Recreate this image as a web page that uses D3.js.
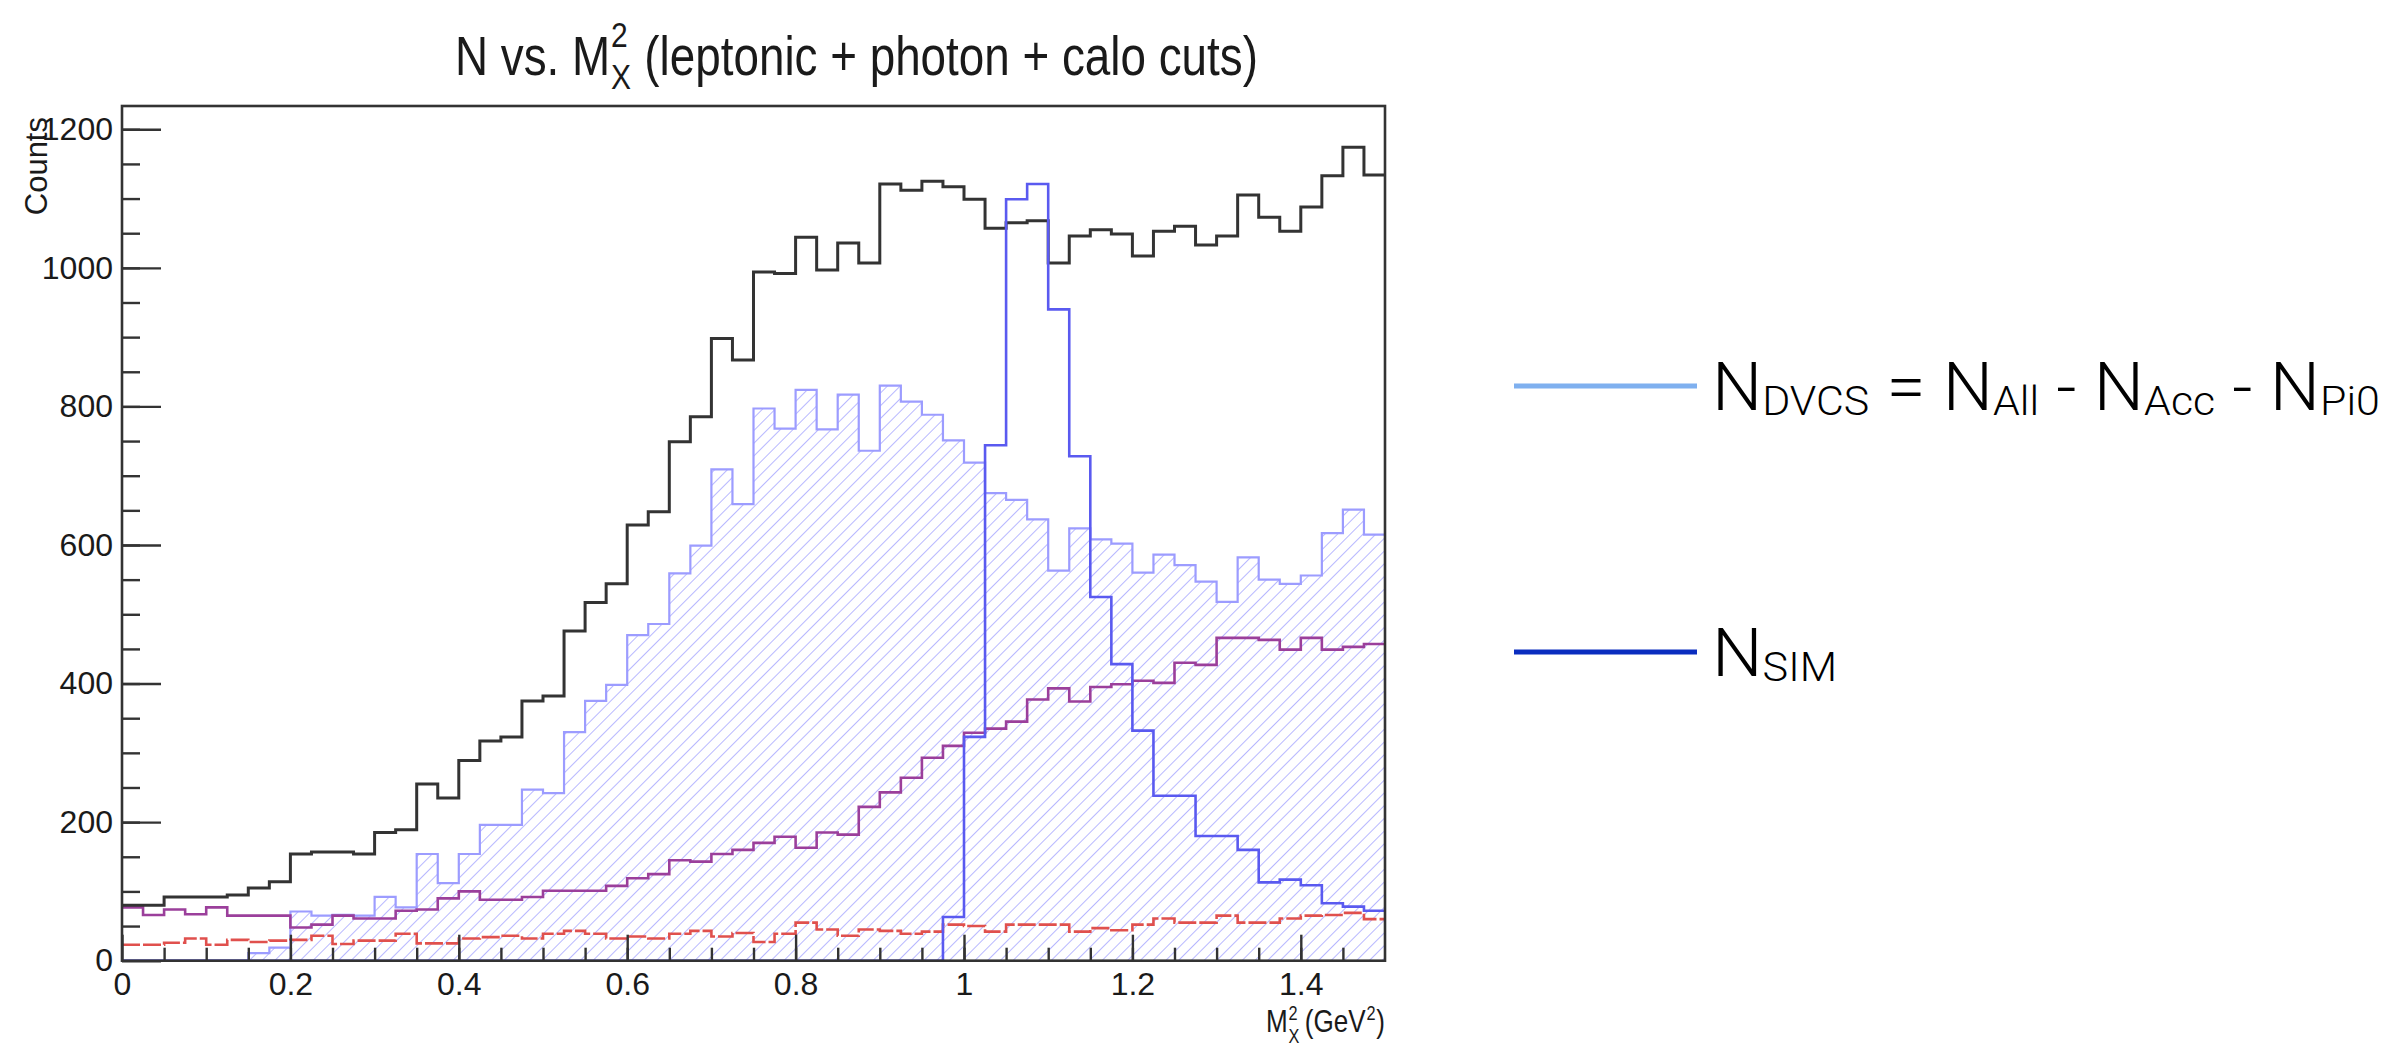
<!DOCTYPE html>
<html>
<head>
<meta charset="utf-8">
<script src="https://cdn.jsdelivr.net/npm/d3@7"></script>
<style>
  body { margin: 0; background: #fff; }
  svg { display: block; }
  text { font-family: "Liberation Sans", Arial, Helvetica, sans-serif; fill: #1a1a1a; white-space: pre; }
  .legend text { font-family: Roboto, "Liberation Sans", sans-serif; font-weight: 300; fill: #000; }
</style>
</head>
<body>
<div class="first"></div>
<script>
// 60 bins of width 0.025 on M_X^2 in [0, 1.5]
const binWidth = 0.025;
const xTicks = [0, 0.2, 0.4, 0.6, 0.8, 1, 1.2, 1.4];
const yTicks = [0, 200, 400, 600, 800, 1000, 1200];

// all events (black)
const nAll = [80, 80, 92, 92, 92, 95, 105, 114, 154, 157,
  157, 154, 185, 189, 255, 235, 289, 317, 323, 375,
  382, 476, 517, 544, 629, 648, 749, 785, 898, 867,
  994, 992, 1044, 997, 1036, 1007, 1121, 1112, 1125, 1117,
  1099, 1057, 1065, 1068, 1007, 1046, 1055, 1049, 1017, 1053,
  1060, 1033, 1046, 1105, 1073, 1053, 1088, 1133, 1174, 1134];

// DVCS = All - Acc - Pi0 (light blue, hatched)
const nDvcs = [0, 0, 0, 0, 0, 0, 11, 19, 71, 65,
  66, 65, 92, 77, 154, 112, 154, 196, 196, 247,
  242, 330, 375, 398, 470, 486, 559, 599, 709, 659,
  797, 768, 824, 767, 817, 736, 830, 807, 788, 751,
  719, 675, 665, 637, 563, 624, 608, 602, 560, 586,
  571, 547, 518, 582, 550, 544, 556, 617, 651, 615];

// simulation (blue)
const nSim = [0, 0, 0, 0, 0, 0, 0, 0, 0, 0,
  0, 0, 0, 0, 0, 0, 0, 0, 0, 0,
  0, 0, 0, 0, 0, 0, 0, 0, 0, 0,
  0, 0, 0, 0, 0, 0, 0, 0, 0, 63,
  323, 744, 1099, 1121, 940, 728, 525, 428, 332, 238,
  238, 180, 180, 160, 113, 117, 109, 83, 78, 72];

// pi0 (purple)
const nPi0 = [77, 66, 74, 67, 77, 65, 65, 65, 48, 52,
  65, 61, 61, 72, 74, 90, 100, 88, 88, 92,
  101, 101, 101, 108, 119, 125, 145, 143, 154, 160,
  170, 179, 163, 185, 182, 222, 243, 264, 293, 310,
  329, 335, 345, 377, 393, 374, 395, 399, 404, 401,
  430, 427, 466, 466, 463, 449, 466, 449, 453, 457];

// accidentals (red dashed)
const nAcc = [23, 23, 26, 32, 23, 30, 27, 29, 30, 36,
  24, 29, 29, 39, 25, 25, 32, 34, 36, 32,
  39, 43, 39, 32, 35, 32, 39, 43, 35, 40,
  27, 39, 55, 45, 36, 45, 43, 39, 42, 52,
  50, 42, 52, 52, 52, 42, 47, 44, 52, 61,
  55, 55, 65, 55, 55, 61, 65, 66, 69, 60];

makeChart();

function stepPoints(values) {
  const pts = values.map((v, i) => [i * binWidth, v]);
  pts.push([values.length * binWidth, values[values.length - 1]]);
  return pts;
}

// horizontally squeeze a group so it spans [x0, x0 + width]
function fitWidth(g, x0, width) {
  const bb = g.node().getBBox();
  const k = width / bb.width;
  g.attr('transform', `translate(${x0},0) scale(${k},1) translate(${-bb.x},0)`);
}

function makeChart() {
  const width = 2400;
  const height = 1047;
  const plot = {left: 122, right: 1385, top: 106, bottom: 960.7};

  const svg = d3.select('.first').append('svg')
    .attr('width', width)
    .attr('height', height);

  svg.append('rect').attr('width', width).attr('height', height).attr('fill', '#fff');

  const x = d3.scaleLinear().domain([0, 1.5]).range([plot.left, plot.right]);
  const y = d3.scaleLinear().domain([0, 1233.6]).range([plot.bottom, plot.top]);

  const defs = svg.append('defs');
  const hatch = defs.append('pattern')
    .attr('id', 'hatch')
    .attr('patternUnits', 'userSpaceOnUse')
    .attr('width', 9)
    .attr('height', 9)
    .attr('patternTransform', 'rotate(45)');
  hatch.append('line')
    .attr('x1', 0).attr('y1', 0).attr('x2', 0).attr('y2', 9)
    .attr('stroke', '#b0b0ff')
    .attr('stroke-width', 1.8);

  defs.append('clipPath').attr('id', 'plotclip')
    .append('rect')
    .attr('x', plot.left).attr('y', plot.top)
    .attr('width', plot.right - plot.left).attr('height', plot.bottom - plot.top);

  const line = d3.line()
    .x(d => x(d[0]))
    .y(d => y(d[1]))
    .curve(d3.curveStepAfter);

  const area = d3.area()
    .x(d => x(d[0]))
    .y0(y(0))
    .y1(d => y(d[1]))
    .curve(d3.curveStepAfter);

  const hists = svg.append('g').attr('clip-path', 'url(#plotclip)');

  hists.append('path')
    .attr('d', area(stepPoints(nDvcs)))
    .attr('fill', 'url(#hatch)');

  const series = [
    {values: nDvcs, color: '#9c9cff', width: 2.2, dash: null},
    {values: nAcc, color: '#e0504d', width: 2.6, dash: '18,3'},
    {values: nPi0, color: '#9b3f9b', width: 2.6, dash: null},
    {values: nAll, color: '#333333', width: 3, dash: null},
    {values: nSim, color: '#5a5af0', width: 2.6, dash: null}
  ];

  hists.selectAll('path.hist')
    .data(series)
    .enter()
    .append('path')
    .attr('class', 'hist')
    .attr('d', d => line(stepPoints(d.values)))
    .attr('fill', 'none')
    .attr('stroke', d => d.color)
    .attr('stroke-width', d => d.width)
    .attr('stroke-dasharray', d => d.dash);

  // axes, ROOT style: ticks point inward
  svg.append('g')
    .attr('transform', `translate(0,${plot.bottom})`)
    .call(d3.axisBottom(x).tickValues(xTicks).tickSize(-26).tickPadding(12).tickFormat(d3.format('')));
  svg.append('g')
    .attr('transform', `translate(0,${plot.bottom})`)
    .call(d3.axisBottom(x).tickValues(d3.range(0.05, 1.5, 0.05)).tickSize(-13).tickFormat(''));

  svg.append('g')
    .attr('transform', `translate(${plot.left},0)`)
    .call(d3.axisLeft(y).tickValues(yTicks).tickSize(-39).tickPadding(9).tickFormat(d3.format('d')));
  svg.append('g')
    .attr('transform', `translate(${plot.left},0)`)
    .call(d3.axisLeft(y).tickValues(d3.range(50, 1234, 50)).tickSize(-18).tickFormat(''));

  svg.selectAll('.domain').remove();
  svg.selectAll('.tick line').attr('stroke', '#333').attr('stroke-width', 2.4);
  svg.selectAll('.tick text')
    .style('font-family', '"Liberation Sans", Arial, sans-serif')
    .style('font-size', '32px')
    .attr('fill', '#1a1a1a');

  svg.append('rect')
    .attr('x', plot.left).attr('y', plot.top)
    .attr('width', plot.right - plot.left).attr('height', plot.bottom - plot.top)
    .attr('fill', 'none')
    .attr('stroke', '#333')
    .attr('stroke-width', 2.6);

  // y title
  svg.append('text')
    .attr('transform', 'translate(47,117) rotate(-90)')
    .attr('text-anchor', 'end')
    .style('font-size', '31px')
    .text('Counts');

  // x title: M_X^2 (GeV^2), right aligned to the frame
  const xt = svg.append('g');
  const xb = 1032;
  const m = xt.append('text').attr('x', 0).attr('y', xb).style('font-size', '32px').text('M');
  let cx = m.node().getComputedTextLength() + 1;
  xt.append('text').attr('x', cx).attr('y', xb - 12).style('font-size', '20px').text('2');
  xt.append('text').attr('x', cx).attr('y', xb + 11).style('font-size', '20px').text('X');
  cx += 20;
  const gev = xt.append('text').attr('x', cx).attr('y', xb).style('font-size', '32px').text('(GeV');
  cx += gev.node().getComputedTextLength() + 1;
  xt.append('text').attr('x', cx).attr('y', xb - 12).style('font-size', '20px').text('2');
  cx += 12;
  xt.append('text').attr('x', cx).attr('y', xb).style('font-size', '32px').text(')');
  fitWidth(xt, 1266, 119);

  // title
  const tg = svg.append('g');
  const tb = 75;
  const t1 = tg.append('text').attr('x', 0).attr('y', tb).style('font-size', '55px').text('N vs. M');
  let tx = t1.node().getComputedTextLength() + 1;
  tg.append('text').attr('x', tx).attr('y', tb - 28).style('font-size', '36px').text('2');
  tg.append('text').attr('x', tx).attr('y', tb + 14).style('font-size', '36px').text('X');
  tx += 40;
  tg.append('text').attr('x', tx).attr('y', tb).style('font-size', '55px').text('(leptonic + photon + calo cuts)');
  fitWidth(tg, 455, 803);

  // legend
  const legend = svg.append('g').attr('class', 'legend');
  const entries = [
    {y: 386, color: '#7fb0ef', parts: [['N', 0], ['DVCS', 1], [' = N', 0], ['All', 1], [' - N', 0], ['Acc', 1], [' - N', 0], ['Pi0', 1]], w: 668},
    {y: 652, color: '#0a2dbf', parts: [['N', 0], ['SIM', 1]], w: 125}
  ];
  entries.forEach(e => {
    legend.append('line')
      .attr('x1', 1514).attr('x2', 1697)
      .attr('y1', e.y).attr('y2', e.y)
      .attr('stroke', e.color)
      .attr('stroke-width', 5);
    const g = legend.append('g');
    const txt = g.append('text').attr('x', 0).attr('y', e.y + 24);
    let prev = 0;
    e.parts.forEach(p => {
      txt.append('tspan')
        .attr('dy', p[1] ? 5 : (prev ? -5 : 0))
        .style('font-size', p[1] ? '40px' : '66px')
        .text(p[0]);
      prev = p[1];
    });
    fitWidth(g, 1712, e.w);
  });
}
</script>
</body>
</html>
